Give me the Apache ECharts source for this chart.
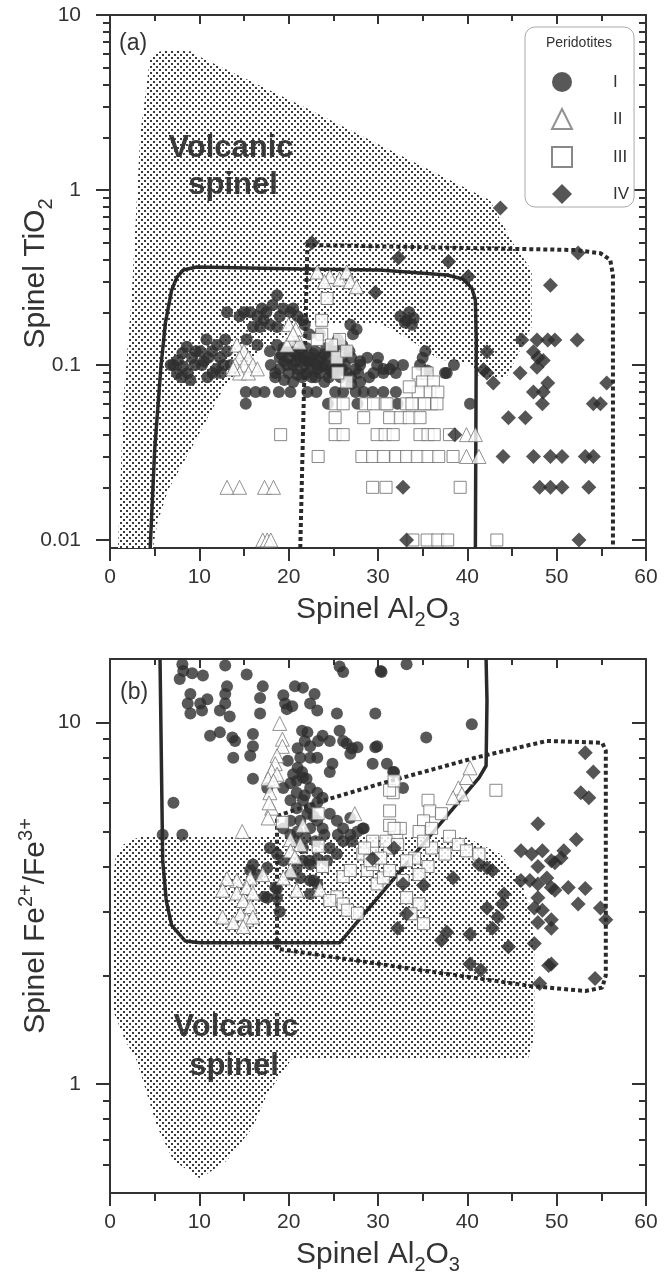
<!DOCTYPE html>
<html>
<head>
<meta charset="UTF-8">
<title>Spinel Al2O3 vs TiO2 and Fe2+/Fe3+</title>
<script src="https://cdn.jsdelivr.net/npm/echarts@6/dist/echarts.min.js"></script>
<style>
  html, body { margin: 0; padding: 0; background: #fff; }
  #main { width: 665px; height: 1280px; }
</style>
</head>
<body>
<div id="main"></div>
<script>
// ---- panel (a): Al2O3 vs TiO2 ----
var circlesA = [
  [6.8,0.10],[7.1,0.10],[7.6,0.106],[8.1,0.117],[8.6,0.127],[8.2,0.098],[8.7,0.09],[9.0,0.082],[7.5,0.09],[8.0,0.085],
  [9.2,0.11],[9.6,0.12],[9.5,0.10],[10.1,0.12],[10.8,0.14],[10.3,0.10],[10.5,0.105],[11.0,0.11],[11.4,0.12],[12.0,0.13],
  [12.3,0.11],[12.7,0.10],[11.9,0.095],[12.4,0.09],[13.1,0.12],[13.5,0.10],[12.9,0.14],[11.5,0.09],[10.9,0.085],
  [13.1,0.2],[14.5,0.19],[15.0,0.2],[15.7,0.2],[16.5,0.19],[17.2,0.18],[17.9,0.17],[18.7,0.165],[18.7,0.25],[19.4,0.21],
  [20.2,0.2],[21.0,0.19],[21.6,0.18],[16.0,0.165],[16.8,0.165],[15.3,0.14],[16.5,0.13],[17.5,0.2],[19.0,0.19],[20.5,0.21],
  [21.8,0.17],[22.3,0.15],[23.5,0.15],[17.0,0.21],[18.2,0.22],
  [17.9,0.12],[18.7,0.13],[19.4,0.125],[20.1,0.125],[20.9,0.115],[21.6,0.11],[22.4,0.105],[23.1,0.1],[23.8,0.098],[24.6,0.095],
  [18.0,0.1],[18.5,0.09],[19.0,0.095],[19.5,0.105],[20.0,0.09],[20.5,0.1],[21.0,0.095],[21.5,0.085],[22.0,0.09],[22.5,0.095],
  [23.0,0.085],[23.5,0.09],[24.0,0.08],[24.5,0.085],[25.0,0.09],[25.5,0.1],[26.0,0.095],[26.5,0.09],[27.0,0.085],[27.5,0.095],
  [28.0,0.1],[26.0,0.11],[25.0,0.12],[24.0,0.115],[23.0,0.12],[22.0,0.125],[21.0,0.13],[27.0,0.11],[28.0,0.105],[28.8,0.11],
  [29.9,0.1],[30.6,0.095],[31.3,0.095],[32.0,0.09],[31.7,0.1],[32.8,0.1],[30.6,0.09],[29.0,0.085],[28.0,0.08],[27.0,0.078],
  [20.5,0.08],[19.5,0.082],[18.5,0.085],[26.9,0.17],[27.6,0.16],[27.2,0.15],[26.0,0.13],[25.5,0.14],[22.5,0.11],[23.5,0.105],
  [24.5,0.11],[25.5,0.105],[21.5,0.12],[20.0,0.11],[19.0,0.11],[29.5,0.09],[30.0,0.11],
  [19.2,0.115],[20.3,0.12],[21.2,0.11],[22.0,0.105],[22.8,0.115],[23.6,0.11],[24.2,0.1],[25.2,0.095],[26.3,0.1],[24.8,0.09],
  [23.2,0.095],[21.8,0.1],[20.8,0.105],[19.8,0.1],[26.8,0.12],[27.8,0.09],[25.8,0.085],[22.6,0.085],[21.0,0.088],[24.2,0.125],
  [25.0,0.13],
  [33.2,0.18],[32.5,0.19],[33.5,0.2],[34.0,0.185],[33.8,0.17],[33.0,0.175],[35.3,0.12],[35.0,0.11],[34.7,0.1],[35.5,0.093],
  [37.7,0.09],[38.5,0.1],[37.5,0.09],
  [15.2,0.07],[16.3,0.07],[17.3,0.07],[18.9,0.07],[20.2,0.07],[22.1,0.07],[23.1,0.07],[25.2,0.07],[26.1,0.07],[27.5,0.07],
  [28.4,0.07],[29.4,0.07],[30.6,0.07],[32.0,0.07],
  [15.2,0.06],[24.4,0.06],[27.7,0.06],[32.2,0.06],[40.3,0.06]
];
var trianglesA = [
  [14.2,0.13],[15.0,0.12],[14.5,0.11],[15.5,0.11],[14.0,0.1],[15.0,0.1],[16.0,0.1],[14.5,0.09],[15.5,0.09],[13.8,0.095],[16.5,0.095],
  [20.0,0.17],[20.8,0.16],[20.2,0.14],[21.2,0.135],[19.8,0.13],[20.5,0.15],
  [23.2,0.34],[24.6,0.32],[25.7,0.31],[26.5,0.34],[26.9,0.30],[27.6,0.28],[24.0,0.3],
  [39.9,0.04],[40.9,0.04],[39.9,0.03],[41.3,0.03],
  [13.1,0.02],[14.5,0.02],[17.3,0.02],[18.3,0.02],
  [17.1,0.01],[17.6,0.01],[18.0,0.01]
];
var squaresA = [
  [24.3,0.24],[23.7,0.18],[23.7,0.15],[23.2,0.14],[25.7,0.14],[25.4,0.11],[24.8,0.13],[26.5,0.08],[26.5,0.12],[25.5,0.09],
  [34.5,0.09],[35.5,0.09],[35.0,0.08],[36.2,0.08],[35.8,0.07],[36.7,0.07],[34.5,0.07],[33.5,0.075],
  [25.2,0.06],[26.1,0.06],[28.6,0.06],[29.5,0.06],[30.8,0.06],[33.2,0.06],[34.7,0.06],[36.0,0.06],[31.0,0.06],[33.8,0.06],[35.2,0.06],[36.6,0.06],
  [25.2,0.05],[28.4,0.05],[31.3,0.05],[32.5,0.05],[33.5,0.05],[34.7,0.05],
  [19.1,0.04],[25.2,0.04],[26.1,0.04],[29.9,0.04],[30.8,0.04],[31.7,0.04],[34.7,0.04],[35.6,0.04],[36.3,0.04],[38.0,0.04],
  [23.3,0.03],[28.2,0.03],[29.4,0.03],[30.6,0.03],[32.0,0.03],[33.2,0.03],[34.4,0.03],[35.6,0.03],[36.8,0.03],[38.4,0.03],
  [29.4,0.02],[30.9,0.02],[39.2,0.02],
  [33.9,0.01],[35.5,0.01],[36.7,0.01],[37.8,0.01],[43.3,0.01]
];
var diamondsA = [
  [22.6,0.5],[32.3,0.41],[37.9,0.39],[40.1,0.32],[43.7,0.79],[52.4,0.436],[49.3,0.286],[29.7,0.26],
  [46.1,0.139],[47.8,0.139],[49.0,0.139],[49.8,0.139],[52.3,0.139],
  [42.2,0.119],[47.4,0.119],[47.9,0.11],[48.5,0.106],[47.8,0.097],
  [41.8,0.094],[42.2,0.09],[45.9,0.09],
  [42.9,0.079],[49.0,0.079],[55.6,0.079],
  [47.4,0.07],[48.5,0.07],[48.4,0.06],[54.1,0.06],[54.9,0.06],
  [44.6,0.05],[46.5,0.05],[38.6,0.04],
  [44.0,0.03],[47.4,0.03],[49.3,0.03],[50.6,0.03],[53.2,0.03],[54.1,0.03],
  [32.8,0.02],[48.1,0.02],[49.3,0.02],[50.6,0.02],[53.6,0.02],
  [33.2,0.01],[52.5,0.01]
];
var solidA = [[4.5,0.009],[5.0,0.0327],[5.7,0.0975],[6.2,0.174],[6.9,0.268],[7.5,0.318],[8.2,0.349],[9.7,0.363],
  [21.3,0.354],[30.2,0.349],[37.7,0.327],[39.5,0.31],[40.5,0.275],[40.9,0.235],[41.0,0.139],[40.9,0.009]];
var dottedA = [[21.3,0.009],[22.1,0.485],[52.1,0.454],[54.9,0.435],[56.0,0.398],[56.3,0.327],[56.3,0.009]];
var volcanicA = [[0.9,0.009],[1.5,0.063],[2.4,0.235],[3.4,2.12],[4.5,5.75],[5.2,6.1],[6.2,6.3],[9.0,6.2],[10.1,5.75],
  [21.3,3.06],[32.5,1.58],[42.5,0.877],[45.1,0.498],[47.2,0.349],[47.2,0.165],[44.4,0.085],[41.4,0.085],[40.3,0.103],
  [36.9,0.107],[33.6,0.139],[30.2,0.174],[22.4,0.174],[16.8,0.122],[12.6,0.072],[9.0,0.0327],[6.5,0.0193],[5.3,0.0125],[4.8,0.009]];

// ---- panel (b): Al2O3 vs Fe2+/Fe3+ ----
var circlesB = [
  [8.1,14.5],[8.2,13.9],[7.8,13.2],[9.2,13.7],[10.4,13.5],[12.9,14.4],[15.3,13.6],[9.0,12.0],[8.7,11.3],[9.0,10.6],
  [10.1,11.3],[10.9,11.6],[10.3,10.8],[12.3,10.8],[12.9,11.3],[13.4,10.4],[13.1,12.6],[12.9,12.0],[17.1,12.6],[16.8,11.7],
  [16.8,10.6],[11.2,9.2],[12.3,9.4],[13.7,9.1],[14.0,8.9],[16.0,9.3],[16.0,8.6],[15.7,8.1],[13.8,8.0],[19.4,11.9],
  [19.6,11.3],[19.8,10.9],[20.4,11.1],[20.7,12.6],[21.6,12.5],[22.9,12.0],[22.4,11.3],[23.2,10.8],[21.5,9.5],[22.1,9.4],
  [21.8,8.9],[22.4,8.6],[23.3,8.9],[23.8,9.2],[24.6,8.9],[19.9,7.85],[21.0,8.5],[21.3,8.0],[22.4,8.0],[23.2,8.0],
  [25.4,10.6],[25.7,9.5],[26.1,8.9],[26.5,8.75],[27.1,8.5],[27.7,8.55],[26.9,8.2],[29.7,10.6],[29.9,8.6],[31.0,7.7],
  [25.7,14.3],[26.1,13.8],[30.4,13.8],[33.2,14.5],[30.3,13.9],[31.7,7.3],[32.8,6.6],[24.9,7.7],[24.6,7.3],[16.0,7.0],
  [17.6,6.6],[40.5,9.9],[35.4,9.1],[31.8,7.3],[29.7,8.55],[29.4,7.7],[7.1,6.0],[8.1,4.9],[5.9,4.9],
  [19.4,6.6],[20.2,6.8],[20.9,6.9],[21.6,7.05],[20.9,6.4],[20.2,6.1],[20.9,5.8],[21.6,6.1],[22.4,6.6],[23.2,6.4],
  [22.4,5.8],[23.2,6.0],[23.8,6.2],[22.1,5.6],[21.3,5.35],[20.2,5.35],[19.4,5.1],[20.2,4.9],[20.9,4.7],[21.6,4.5],
  [22.4,5.1],[23.2,5.35],[23.8,5.1],[24.6,5.6],[25.4,5.35],[26.1,5.1],[26.9,4.9],[27.7,5.0],[28.3,5.1],[26.9,5.45],
  [26.1,4.7],[25.4,4.33],[24.6,4.5],[24.3,4.15],[23.2,4.2],[22.4,4.05],[21.6,4.15],[20.9,3.97],[20.2,3.8],[19.4,4.15],
  [18.7,4.33],[17.9,4.5],[17.6,3.97],[16.0,4.05],[15.7,3.9],[16.5,3.8],[22.4,3.66],[23.2,3.58],[22.4,3.36],[21.3,3.72],
  [18.7,3.48],[18.7,3.28],[17.6,3.28],[22.8,3.66],[22.3,4.15],[18.5,3.5],[19.0,3.0],[17.3,3.3],[29.4,4.2],[27.1,4.7],
  [28.4,5.1],[21.0,7.5],[21.5,7.3],[22.0,7.0],[20.5,7.2],[21.8,6.3],[22.8,5.5],[21.0,5.0],[21.9,4.8],[23.0,4.7],
  [24.0,4.9],[25.5,4.9]
];
var trianglesB = [
  [19.0,9.95],[19.3,9.0],[19.3,8.6],[18.7,8.1],[18.5,7.7],[18.1,7.35],[17.7,7.0],[18.7,7.2],[17.9,6.4],[18.1,5.8],
  [17.7,5.45],[14.8,5.0],[27.4,5.6],[21.6,5.2],[20.2,4.75],[21.3,4.6],[20.2,4.42],[20.7,4.25],[20.2,3.9],[19.4,3.72],
  [17.1,3.8],[15.7,3.72],[14.2,3.66],[13.1,3.7],[12.6,3.44],[14.2,3.38],[15.3,3.5],[16.0,3.38],[14.9,3.22],[15.7,3.1],
  [14.6,2.96],[15.3,2.85],[13.8,2.8],[14.9,2.73],[12.6,2.9],[16.0,2.9],[23.5,3.46],[20.9,3.44],
  [39.0,6.6],[39.9,7.05],[40.3,7.5],[39.4,6.35],[38.4,6.2],[17.8,6.0],[18.3,6.9]
];
var squaresB = [
  [23.3,5.6],[19.3,5.3],[23.3,4.55],[23.8,4.0],[25.4,3.3],[26.1,3.15],[26.6,3.03],[27.7,2.97],[24.6,3.22],[28.8,3.9],
  [29.4,4.05],[29.9,3.58],[30.6,3.72],[29.4,4.5],[31.3,4.5],[32.1,4.85],[32.5,5.1],[31.3,5.7],[31.7,6.4],[31.3,5.2],
  [26.1,3.75],[26.9,3.9],[28.3,4.33],[29.1,4.15],[43.2,6.5],[35.6,6.1],[35.8,5.7],[35.1,5.35],[36.0,5.1],[34.6,5.0],
  [37.1,5.6],[38.0,4.85],[39.0,4.6],[39.9,4.42],[41.3,4.33],[37.5,4.33],[36.0,4.5],[35.1,4.7],[34.1,4.22],[33.2,4.15],
  [35.6,4.0],[34.6,3.8],[33.2,3.28],[34.6,3.15],[33.7,2.96],[35.1,2.78],[31.8,5.1],[30.9,4.7],[32.2,4.6],[29.4,4.7],
  [28.5,4.5],[30.3,4.22],[31.3,3.9],[32.8,3.66],[31.3,6.5],[31.8,6.9]
];
var diamondsB = [
  [53.2,8.25],[54.1,7.3],[52.7,6.4],[53.6,6.2],[47.9,5.25],[52.2,4.75],[46.0,4.42],[47.2,4.33],[48.4,4.42],[50.8,4.42],
  [47.9,4.0],[49.4,4.15],[49.8,4.1],[50.5,4.22],[46.0,3.66],[47.0,3.66],[47.9,3.58],[48.9,3.72],[49.4,3.5],[51.3,3.5],
  [53.2,3.48],[49.8,3.44],[47.9,3.28],[47.5,3.07],[48.4,3.03],[49.4,2.85],[47.9,2.8],[52.4,3.15],[54.9,3.07],[55.5,2.85],
  [42.8,3.9],[41.3,4.05],[42.2,3.97],[38.4,3.72],[31.8,4.5],[29.4,4.2],[35.1,3.55],[32.8,3.58],[44.1,3.36],[43.9,3.15],
  [42.2,3.07],[33.2,2.96],[32.2,2.7],[43.4,2.9],[42.8,2.7],[44.6,2.4],[40.3,2.6],[37.7,2.63],[49.4,2.7],[49.4,2.15],
  [40.3,2.15],[41.5,2.07],[47.5,2.45],[49.1,2.13],[54.3,1.96],[48.1,1.9],[37.1,2.5]
];
var solidB = [[5.6,15],[5.9,4.15],[6.3,3.22],[6.9,2.75],[8.4,2.49],[10.1,2.46],[25.7,2.46],[41.3,7.03],[42.1,7.6],[42.2,11.5],[42.1,15]];
var dottedB = [[18.7,2.37],[18.7,5.52],[23.8,6.08],[30.3,6.78],[40.9,8.0],[48.9,8.9],[55.1,8.8],[55.5,8.36],
  [55.5,2.0],[55.1,1.85],[53.2,1.81],[47.0,1.87],[35.2,2.06],[18.7,2.37]];
var volcanicB = [[0.34,3.65],[0.34,1.6],[1.7,1.32],[3.0,1.16],[3.8,1.0],[5.3,0.76],[7.1,0.615],[10.1,0.548],[13.1,0.615],
  [16.0,0.76],[17.6,0.94],[20.4,1.18],[46.8,1.18],[47.5,1.35],[47.5,2.5],[47.0,3.07],[46.0,3.66],[43.7,4.33],[39.9,4.81],
  [3.4,4.85],[1.5,4.6],[0.6,4.2]];

var xTicks = [0, 60, 10];
var yTicksA = [0.01, 0.1, 1, 10];
var yTicksB = [1, 10];
var groupNames = ['I', 'II', 'III', 'IV'];

var FONT = 'Liberation Sans, Arial, Helvetica, sans-serif';
var INK = '#333';

// stipple used for the "Volcanic spinel" field
var stippleCanvas = document.createElement('canvas');
stippleCanvas.width = 6;
stippleCanvas.height = 6;
var sctx = stippleCanvas.getContext('2d');
sctx.fillStyle = '#fff';
sctx.fillRect(0, 0, 6, 6);
sctx.fillStyle = '#3a3a3a';
sctx.fillRect(0, 0, 2, 2);
sctx.fillRect(3, 3, 2, 2);
var stipple = { image: stippleCanvas, repeat: 'repeat' };

var nameStyle = {
  fontFamily: FONT, fontSize: 30, color: INK, lineHeight: 40,
  rich: {
    sub: { fontFamily: FONT, fontSize: 20, lineHeight: 20, verticalAlign: 'bottom', color: INK },
    sup: { fontFamily: FONT, fontSize: 20, lineHeight: 24, verticalAlign: 'top', color: INK }
  }
};
var axisLine = { onZero: false, lineStyle: { color: INK, width: 2 } };
var tickLine = { color: INK, width: 2 };

function xAxesFor(gi) {
  return [{
    type: 'value', gridIndex: gi, position: 'bottom',
    min: xTicks[0], max: xTicks[1], interval: xTicks[2],
    axisLine: axisLine,
    axisTick: { length: 13, lineStyle: tickLine },
    minorTick: { show: true, splitNumber: 2, length: 8, lineStyle: tickLine },
    splitLine: { show: false },
    axisLabel: { fontFamily: FONT, fontSize: 21, color: INK, margin: 19 },
    name: 'Spinel Al{sub|2}O{sub|3}', nameLocation: 'middle', nameGap: 42, nameMoveOverlap: false,
    nameTextStyle: nameStyle
  }, {
    type: 'value', gridIndex: gi, position: 'top',
    min: xTicks[0], max: xTicks[1], interval: xTicks[2],
    axisLine: axisLine,
    axisTick: { inside: true, length: 9, lineStyle: tickLine },
    minorTick: { show: true, splitNumber: 2, length: 6, lineStyle: tickLine },
    splitLine: { show: false },
    axisLabel: { show: false }
  }];
}

function yAxesFor(gi, min, max, ticks, name, pad) {
  var ns = echarts.util.extend({}, nameStyle);
  ns.padding = pad;
  return [{
    type: 'log', logBase: 10, gridIndex: gi, position: 'left', min: min, max: max,
    axisLine: axisLine,
    axisTick: { length: 14, lineStyle: tickLine, customValues: ticks },
    minorTick: { show: true, splitNumber: 9, length: 7, lineStyle: tickLine },
    splitLine: { show: false }, minorSplitLine: { show: false },
    axisLabel: {
      customValues: ticks, fontFamily: FONT, fontSize: 21, color: INK, margin: 29,
      formatter: function (v) { return String(+Number(v).toPrecision(6)); }
    },
    name: name, nameLocation: 'middle', nameGap: 54, nameMoveOverlap: false, nameTextStyle: ns
  }, {
    type: 'log', logBase: 10, gridIndex: gi, position: 'right', min: min, max: max,
    axisLine: axisLine,
    axisTick: { inside: true, length: 14, lineStyle: tickLine, customValues: ticks },
    minorTick: { show: true, splitNumber: 9, length: 7, lineStyle: tickLine },
    splitLine: { show: false }, minorSplitLine: { show: false },
    axisLabel: { show: false }
  }];
}

function field(points, axisIdx) {
  return {
    type: 'custom', xAxisIndex: axisIdx[0], yAxisIndex: axisIdx[1], z: 1, silent: true,
    data: [points[0]],
    renderItem: function (params, api) {
      return {
        type: 'polygon',
        shape: { points: points.map(function (p) { return api.coord(p); }) },
        style: { fill: stipple, stroke: null }
      };
    }
  };
}

function boundary(points, axisIdx, dotted) {
  return {
    type: 'line', xAxisIndex: axisIdx[0], yAxisIndex: axisIdx[1], z: 2, silent: true,
    data: points, showSymbol: false, symbol: 'none',
    lineStyle: dotted
      ? { color: '#2a2a2a', width: 4, type: [4, 3], cap: 'butt' }
      : { color: '#2a2a2a', width: 3.5 }
  };
}

function scatterSet(data, axisIdx, k) {
  var looks = [
    { symbol: 'circle', size: 12, style: { color: '#2e2e2e' } },
    { symbol: 'triangle', size: 14, style: { color: '#fff', borderColor: '#777', borderWidth: 1 } },
    { symbol: 'rect', size: 12, style: { color: '#fff', borderColor: '#6a6a6a', borderWidth: 1 } },
    { symbol: 'diamond', size: 15, style: { color: '#2a2a2a' } }
  ];
  return {
    type: 'scatter', name: groupNames[k], xAxisIndex: axisIdx[0], yAxisIndex: axisIdx[1], z: 3 + k,
    data: data, symbol: looks[k].symbol, symbolSize: looks[k].size, itemStyle: looks[k].style
  };
}

var bigLabel = { fontFamily: FONT, fontWeight: 'bold', fontSize: 31, fill: '#3a3a3a', align: 'center', verticalAlign: 'middle' };

var chart = echarts.init(document.getElementById('main'), null, { renderer: 'canvas' });
chart.setOption({
  backgroundColor: '#fff',
  animation: false,
  textStyle: { fontFamily: FONT },
  grid: [
    { left: 110, top: 15, width: 536, height: 533, outerBoundsMode: 'none', containLabel: false },
    { left: 110, top: 659, width: 536, height: 534, outerBoundsMode: 'none', containLabel: false }
  ],
  xAxis: xAxesFor(0).concat(xAxesFor(1)),
  yAxis: yAxesFor(0, 0.009, 10, yTicksA, 'Spinel TiO{sub|2}', [0, 0, 0, 16])
    .concat(yAxesFor(1, 0.5, 15, yTicksB, 'Spinel Fe{sup|2+}/Fe{sup|3+}', [0, 0, 0, 0])),
  legend: {
    orient: 'vertical', left: 525, top: 27, padding: [45, 5, 3, 26],
    itemWidth: 20, itemHeight: 20, itemGap: 16, selectedMode: false,
    borderColor: '#aaa', borderWidth: 1, borderRadius: 10, backgroundColor: '#fff',
    data: groupNames,
    textStyle: { fontFamily: FONT, fontSize: 17, color: INK, padding: [0, 0, 0, 36] }
  },
  graphic: [
    { type: 'text', x: 579, y: 43, z: 10, style: { text: 'Peridotites', fontFamily: FONT, fontSize: 14, fill: INK, align: 'center', verticalAlign: 'middle' } },
    { type: 'text', x: 119, y: 44, style: { text: '(a)', fontFamily: FONT, fontSize: 23, fill: INK, verticalAlign: 'middle' } },
    { type: 'text', x: 120, y: 693, style: { text: '(b)', fontFamily: FONT, fontSize: 23, fill: INK, verticalAlign: 'middle' } },
    { type: 'text', x: 231, y: 148, z: 5, style: echarts.util.extend({ text: 'Volcanic' }, bigLabel) },
    { type: 'text', x: 233, y: 185, z: 5, style: echarts.util.extend({ text: 'spinel' }, bigLabel) },
    { type: 'text', x: 236, y: 1027, z: 5, style: echarts.util.extend({ text: 'Volcanic' }, bigLabel) },
    { type: 'text', x: 234, y: 1066, z: 5, style: echarts.util.extend({ text: 'spinel' }, bigLabel) }
  ],
  series: [
    field(volcanicA, [0, 0]),
    boundary(solidA, [0, 0], false),
    boundary(dottedA, [0, 0], true),
    scatterSet(circlesA, [0, 0], 0),
    scatterSet(trianglesA, [0, 0], 1),
    scatterSet(squaresA, [0, 0], 2),
    scatterSet(diamondsA, [0, 0], 3),
    field(volcanicB, [2, 2]),
    boundary(solidB, [2, 2], false),
    boundary(dottedB, [2, 2], true),
    scatterSet(circlesB, [2, 2], 0),
    scatterSet(trianglesB, [2, 2], 1),
    scatterSet(squaresB, [2, 2], 2),
    scatterSet(diamondsB, [2, 2], 3)
  ]
});
</script>
</body>
</html>
